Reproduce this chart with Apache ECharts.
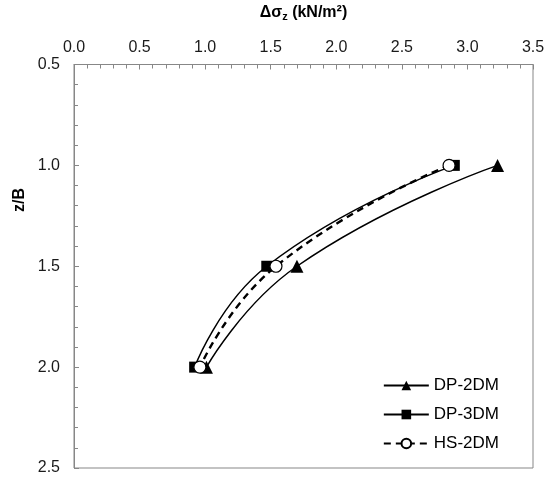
<!DOCTYPE html>
<html>
<head>
<meta charset="utf-8">
<script src="https://cdn.jsdelivr.net/npm/echarts@6/dist/echarts.min.js"></script>
<style>
  html, body { margin: 0; padding: 0; background: #fff; }
  #chart { width: 550px; height: 482px; }
</style>
</head>
<body>
<div id="chart"></div>
<script>
// depth ratios z/B
var depth = [1.0, 1.5, 2.0];
// stress increase, kN/m2
var dp2dm = [3.23, 1.70, 1.01];
var dp3dm = [2.90, 1.47, 0.92];
var hs2dm = [2.86, 1.54, 0.96];
var seriesNames = ['DP-2DM', 'DP-3DM', 'HS-2DM'];

var pairs = function (vals) {
    return vals.map(function (v, i) { return [v, depth[i]]; });
};

var myChart = echarts.init(document.getElementById('chart'));
var font = 'Liberation Sans, Arial, sans-serif';

var option = {
    animation: false,
    textStyle: { fontFamily: font },
    grid: {
        left: 74, right: 17, top: 62, bottom: 14,
        show: true, borderColor: '#878787', borderWidth: 1
    },
    legend: {
        orient: 'vertical',
        right: 46, top: 372,
        itemWidth: 45, itemHeight: 12, itemGap: 12,
        textStyle: { fontSize: 17, color: '#000', fontFamily: font },
        data: seriesNames
    },
    graphic: [{
        type: 'text', left: 12, top: 188, rotation: Math.PI / 2,
        style: { text: 'z/B', font: 'bold 16px ' + font, fill: '#000' }
    }],
    xAxis: {
        type: 'value', position: 'top',
        min: 0, max: 3.5, interval: 0.5,
        name: '{a|Δσ}{s|z}{a| (kN/m²)}', nameLocation: 'middle', nameGap: 42,
        nameTextStyle: {
            rich: {
                a: { fontSize: 16, fontWeight: 'bold', color: '#000', fontFamily: font },
                s: { fontSize: 11, fontWeight: 'bold', color: '#000', fontFamily: font, verticalAlign: 'bottom', padding: [8, 0, 0, 0] }
            }
        },
        axisLine: { lineStyle: { color: '#878787' } },
        axisTick: { inside: true, length: 5, lineStyle: { color: '#878787' } },
        minorTick: { show: true, splitNumber: 5, length: 4, lineStyle: { color: '#878787' } },
        splitLine: { show: false },
        axisLabel: {
            fontSize: 16, color: '#1a1a1a', margin: 9,
            formatter: function (v) { return v.toFixed(1); }
        }
    },
    yAxis: {
        type: 'value', inverse: true,
        min: 0.5, max: 2.5, interval: 0.5,
        axisLine: { lineStyle: { color: '#878787' } },
        axisTick: { inside: true, length: 5, lineStyle: { color: '#878787' } },
        minorTick: { show: true, splitNumber: 5, length: 4, lineStyle: { color: '#878787' } },
        splitLine: { show: false },
        axisLabel: {
            fontSize: 16, color: '#1a1a1a', margin: 14,
            formatter: function (v) { return v.toFixed(1); }
        }
    },
    series: [
        {
            name: seriesNames[0], type: 'line', smooth: 0.5,
            data: pairs(dp2dm),
            symbol: 'triangle', symbolSize: 13,
            itemStyle: { color: '#000' },
            lineStyle: { color: '#000', width: 1.5 }
        },
        {
            name: seriesNames[1], type: 'line', smooth: 0.5,
            data: pairs(dp3dm),
            symbol: 'rect', symbolSize: 11,
            itemStyle: { color: '#000' },
            lineStyle: { color: '#000', width: 1.5 }
        },
        {
            name: seriesNames[2], type: 'line', smooth: 0.5,
            data: pairs(hs2dm),
            symbol: 'circle', symbolSize: 12,
            itemStyle: { color: '#fff', borderColor: '#000', borderWidth: 1.2 },
            lineStyle: { color: '#000', width: 2.4, type: [7, 5] }
        }
    ]
};

myChart.setOption(option);
</script>
</body>
</html>
